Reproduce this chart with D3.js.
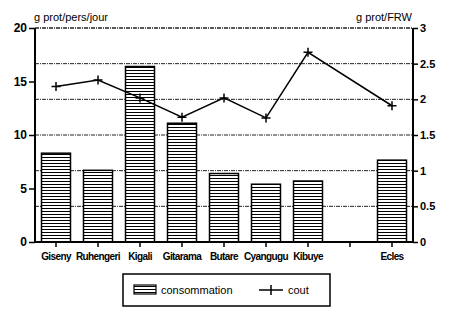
<!DOCTYPE html>
<html>
<head>
<meta charset="utf-8">
<script src="https://cdn.jsdelivr.net/npm/d3@7"></script>
<style>
body { margin: 0; background: #fff; }
text { font-family: "Liberation Sans", Arial, sans-serif; font-weight: bold; fill: #000; }
</style>
</head>
<body>
<div id="graph"></div>
<script>
var categories = ["Giseny", "Ruhengeri", "Kigali", "Gitarama", "Butare", "Cyangugu", "Kibuye", "", "Ecles"];
var consommation = [8.3, 6.7, 16.4, 11.1, 6.4, 5.4, 5.7, null, 7.65];
var cout = [2.18, 2.27, 2.02, 1.75, 2.02, 1.74, 2.66, null, 1.91];
var leftTicks = [0, 5, 10, 15, 20];
var rightTicks = [0, 0.5, 1, 1.5, 2, 2.5, 3];

var svgWidth = 450, svgHeight = 320,
svg = d3.select('#graph').append('svg').attr('width', svgWidth).attr('height', svgHeight),
margin = {top: 28, right: 37, bottom: 78, left: 35},
width = svgWidth - margin.left - margin.right,
height = svgHeight - margin.top - margin.bottom;

var defs = svg.append('defs');
var pat = defs.append('pattern').attr('id', 'hatch')
.attr('patternUnits', 'userSpaceOnUse').attr('width', 6).attr('height', 3);
pat.append('rect').attr('width', 6).attr('height', 3).attr('fill', '#fff');
pat.append('line').attr('x1', 0).attr('x2', 6).attr('y1', 0.5).attr('y2', 0.5)
.attr('stroke', '#000').attr('stroke-width', 1);

var g = svg.append('g').attr('transform', 'translate(' + margin.left + ',' + margin.top + ')');

var xt = d3.scaleBand().domain(d3.range(categories.length)).range([0, width]);
var y = d3.scaleLinear().domain([0, 20]).range([height, 0]);
var y2 = d3.scaleLinear().domain([0, 3]).range([height, 0]);

// grid lines
g.selectAll('.grid').data(rightTicks.filter(function(d) { return d > 0; }))
.enter().append('line')
.attr('x1', 0).attr('x2', width)
.attr('y1', function(d) { return y2(d); }).attr('y2', function(d) { return y2(d); })
.attr('stroke', '#222').attr('stroke-width', 1).attr('stroke-dasharray', '4,1,1,1');

// bars
var bars = consommation.map(function(v, i) { return {i: i, v: v}; }).filter(function(d) { return d.v != null; });
g.selectAll('.bar').data(bars).enter().append('rect')
.attr('x', function(d) { return xt(d.i) + xt.bandwidth() / 2 - 14.5; })
.attr('width', 29)
.attr('y', function(d) { return y(d.v); })
.attr('height', function(d) { return height - y(d.v); })
.attr('fill', 'url(#hatch)')
.attr('stroke', '#000').attr('stroke-width', 1.5);

// line
var pts = cout.map(function(v, i) { return {i: i, v: v}; }).filter(function(d) { return d.v != null; });
var line = d3.line()
.x(function(d) { return xt(d.i) + xt.bandwidth() / 2; })
.y(function(d) { return y2(d.v); });
g.append('path').datum(pts).attr('d', line)
.attr('fill', 'none').attr('stroke', '#000').attr('stroke-width', 1.5);
g.selectAll('.mark').data(pts).enter().append('path')
.attr('transform', function(d) { return 'translate(' + (xt(d.i) + xt.bandwidth() / 2) + ',' + y2(d.v) + ')'; })
.attr('d', 'M-4.5,0H4.5M0,-4.5V4.5')
.attr('stroke', '#000').attr('stroke-width', 1.5);

// axes
var axL = g.append('g').call(d3.axisLeft(y).tickValues(leftTicks).tickSize(6).tickFormat(d3.format('d')));
var axR = g.append('g').attr('transform', 'translate(' + width + ',0)')
.call(d3.axisRight(y2).tickValues(rightTicks).tickSize(5).tickFormat(function(d) { return String(d); }));
var axB = g.append('g').attr('transform', 'translate(0,' + height + ')')
.call(d3.axisBottom(xt).tickSize(5).tickFormat(function(i) { return categories[i]; }));
[axL, axR, axB].forEach(function(a) {
  a.select('.domain').attr('stroke', '#000').attr('stroke-width', 2);
  a.selectAll('.tick line').attr('stroke', '#000').attr('stroke-width', 1.5);
});
axL.select('.domain').attr('d', 'M0,' + height + 'V0');
axR.select('.domain').attr('d', 'M0,' + height + 'V0');
axB.select('.domain').attr('d', 'M0,0H' + width);
axL.selectAll('.tick text').style('font-size', '12px').attr('x', -8);
axR.selectAll('.tick text').style('font-size', '11px').attr('x', 7);
axB.selectAll('.tick text').style('font-size', '10px').style('letter-spacing', '-0.6px').attr('y', 11);

// top border
g.append('line').attr('x1', 0).attr('x2', width).attr('y1', 0).attr('y2', 0)
.attr('stroke', '#222').attr('stroke-width', 1).attr('stroke-dasharray', '4,1,1,1');

// unit labels
svg.append('text').attr('x', 34).attr('y', 21).style('font-size', '11px').style('font-weight', 'normal')
.text('g prot/pers/jour');
svg.append('text').attr('x', 412).attr('y', 21).attr('text-anchor', 'end').style('font-size', '11px').style('font-weight', 'normal')
.text('g prot/FRW');

// legend
var lg = svg.append('g').attr('transform', 'translate(123,274)');
lg.append('rect').attr('width', 207).attr('height', 32).attr('fill', 'none').attr('stroke', '#000').attr('stroke-width', 1.5);
lg.append('rect').attr('x', 11).attr('y', 11).attr('width', 22).attr('height', 9)
.attr('fill', 'url(#hatch)').attr('stroke', '#000').attr('stroke-width', 1.2);
lg.append('text').attr('x', 38).attr('y', 20).style('font-size', '11px').style('font-weight', 'normal').text('consommation');
lg.append('path').attr('d', 'M136,16H160M148,11V21').attr('stroke', '#000').attr('stroke-width', 1.5);
lg.append('text').attr('x', 165).attr('y', 20).style('font-size', '11px').style('font-weight', 'normal').text('cout');
</script>
</body>
</html>
